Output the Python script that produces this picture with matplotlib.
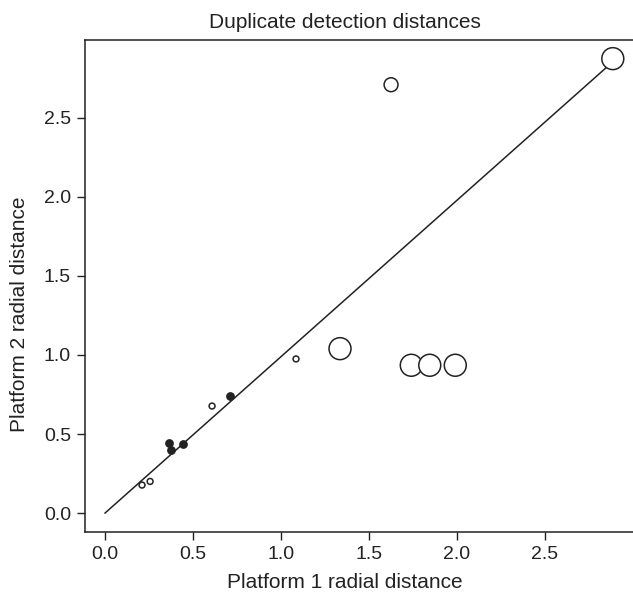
import matplotlib
matplotlib.use("Agg")
import matplotlib.pyplot as plt

plt.rcParams['font.family'] = ['Liberation Sans', 'DejaVu Sans']

# open circles (larger = larger group size)
open_x = [2.885, 1.625, 1.335, 1.74, 1.845, 1.99, 1.085, 0.608, 0.21, 0.256]
open_y = [2.875, 2.71, 1.04, 0.935, 0.935, 0.935, 0.975, 0.677, 0.177, 0.20]
open_size = [250, 100, 250, 250, 250, 250, 18, 18, 18, 18]

# filled points
fill_x = [0.71, 0.364, 0.375, 0.443]
fill_y = [0.74, 0.443, 0.40, 0.437]

line_x = [0.0, 2.9]
line_y = [0.0, 2.87]

ticks = [0.0, 0.5, 1.0, 1.5, 2.0, 2.5]
tick_labels = ['0.0', '0.5', '1.0', '1.5', '2.0', '2.5']

W, H = 633, 596
fig = plt.figure(figsize=(W / 100, H / 100), dpi=100)
ax = fig.add_axes([85 / W, (H - 532) / H, 560 / W, 492 / H])

ax.plot(line_x, line_y, color='#222222', lw=1.1)
ax.scatter(open_x, open_y, s=open_size, facecolors='white', edgecolors='#222222', linewidths=1.1, zorder=3)
ax.scatter(fill_x, fill_y, s=28, color='#222222', zorder=3)

ax.set_xlim(-0.114, 3.068)
ax.set_ylim(-0.12, 2.993)
ax.set_xticks(ticks)
ax.set_yticks(ticks)
ax.set_xticklabels(tick_labels)
ax.set_yticklabels(tick_labels)
ax.spines['right'].set_visible(False)
for s in ['left', 'top', 'bottom']:
    ax.spines[s].set_linewidth(1.1)
    ax.spines[s].set_color('#222222')
ax.tick_params(direction='out', length=6, width=1.0, color='#222222', labelsize=14, labelcolor='#222222', pad=4)

fig.text(345 / W, 1 - 22 / H, 'Duplicate detection distances', ha='center', va='center', fontsize=15, color='#222222')
fig.text(345 / W, 1 - 582 / H, 'Platform 1 radial distance', ha='center', va='center', fontsize=15, color='#222222')
fig.text(20 / W, 1 - 314 / H, 'Platform 2 radial distance', ha='center', va='center', rotation=90, fontsize=15, color='#222222')

fig.savefig('out.png', dpi=100)
